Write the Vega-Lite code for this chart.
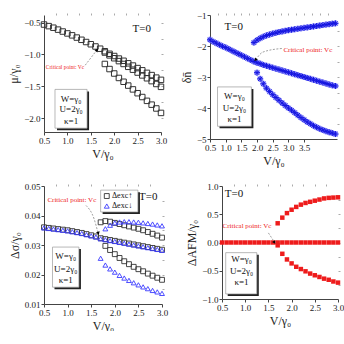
{
  "$schema": "https://vega.github.io/schema/vega-lite/v6.json",
  "padding": {"left": 7, "top": 11, "right": 0, "bottom": 0},
  "background": "white",
  "config": {
    "font": "Liberation Serif",
    "view": {"stroke": null},
    "axis": {"labelFont": "Liberation Serif", "labelFontSize": 9, "labelColor": "#222", "titleFont": "Liberation Serif", "titleFontSize": 12, "titleFontWeight": "normal", "titleColor": "#222", "domainColor": "#444", "tickColor": "#444", "tickSize": 3, "grid": false, "labelPadding": 1, "titlePadding": 3, "labelFlush": false, "labelOverlap": false},
    "text": {"font": "Liberation Serif"}
  },
  "datasets": {
    "p1": [
      {"V":0.5,"val":-0.53},{"V":0.6,"val":-0.555},{"V":0.7,"val":-0.58},{"V":0.8,"val":-0.61},{"V":0.9,"val":-0.64},{"V":1.0,"val":-0.67},{"V":1.1,"val":-0.70},{"V":1.2,"val":-0.735},{"V":1.3,"val":-0.77},{"V":1.4,"val":-0.805},{"V":1.5,"val":-0.84},{"V":1.6,"val":-0.875},{"V":1.7,"val":-0.91},
      {"V":1.8,"val":-0.95},{"V":1.9,"val":-0.99},{"V":2.0,"val":-1.025},{"V":2.1,"val":-1.065},{"V":2.2,"val":-1.10},{"V":2.3,"val":-1.14},{"V":2.4,"val":-1.175},{"V":2.5,"val":-1.215},{"V":2.6,"val":-1.25},{"V":2.7,"val":-1.29},{"V":2.8,"val":-1.325},{"V":2.9,"val":-1.365},{"V":3.0,"val":-1.40},
      {"V":1.8,"val":-0.97},{"V":1.9,"val":-1.015},{"V":2.0,"val":-1.06},{"V":2.1,"val":-1.105},{"V":2.2,"val":-1.15},{"V":2.3,"val":-1.195},{"V":2.4,"val":-1.24},{"V":2.5,"val":-1.285},{"V":2.6,"val":-1.33},{"V":2.7,"val":-1.375},{"V":2.8,"val":-1.42},{"V":2.9,"val":-1.465},{"V":3.0,"val":-1.51},
      {"V":1.8,"val":-1.15},{"V":1.9,"val":-1.23},{"V":2.0,"val":-1.30},{"V":2.1,"val":-1.37},{"V":2.2,"val":-1.43},{"V":2.3,"val":-1.49},{"V":2.4,"val":-1.55},{"V":2.5,"val":-1.61},{"V":2.6,"val":-1.67},{"V":2.7,"val":-1.73},{"V":2.8,"val":-1.79},{"V":2.9,"val":-1.85},{"V":3.0,"val":-1.92}
    ],
    "p2": [
      {"V":0.5,"val":-1.80},{"V":0.6,"val":-1.86},{"V":0.7,"val":-1.91},{"V":0.8,"val":-1.96},{"V":0.9,"val":-2.01},{"V":1.0,"val":-2.05},{"V":1.1,"val":-2.10},{"V":1.2,"val":-2.15},{"V":1.3,"val":-2.20},{"V":1.4,"val":-2.25},{"V":1.5,"val":-2.30},{"V":1.6,"val":-2.35},{"V":1.7,"val":-2.40},{"V":1.8,"val":-2.45},{"V":1.9,"val":-2.50},
      {"V":2.0,"val":-2.54},{"V":2.1,"val":-2.57},{"V":2.2,"val":-2.61},{"V":2.3,"val":-2.64},{"V":2.4,"val":-2.67},{"V":2.5,"val":-2.70},{"V":2.6,"val":-2.73},{"V":2.7,"val":-2.76},{"V":2.8,"val":-2.79},{"V":2.9,"val":-2.82},{"V":3.0,"val":-2.85},{"V":3.1,"val":-2.88},{"V":3.2,"val":-2.91},{"V":3.3,"val":-2.94},{"V":3.4,"val":-2.97},{"V":3.5,"val":-3.00},{"V":3.6,"val":-3.03},{"V":3.7,"val":-3.06},{"V":3.8,"val":-3.09},{"V":3.9,"val":-3.12},{"V":4.0,"val":-3.15},{"V":4.1,"val":-3.18},{"V":4.2,"val":-3.21},{"V":4.3,"val":-3.24},{"V":4.4,"val":-3.27},{"V":4.5,"val":-3.29},
      {"V":1.9,"val":-1.89},{"V":2.0,"val":-1.81},{"V":2.1,"val":-1.75},{"V":2.2,"val":-1.70},{"V":2.3,"val":-1.66},{"V":2.4,"val":-1.63},{"V":2.5,"val":-1.60},{"V":2.6,"val":-1.575},{"V":2.7,"val":-1.55},{"V":2.8,"val":-1.53},{"V":2.9,"val":-1.51},{"V":3.0,"val":-1.49},{"V":3.1,"val":-1.475},{"V":3.2,"val":-1.46},{"V":3.3,"val":-1.445},{"V":3.4,"val":-1.43},{"V":3.5,"val":-1.415},{"V":3.6,"val":-1.40},{"V":3.7,"val":-1.385},{"V":3.8,"val":-1.37},{"V":3.9,"val":-1.355},{"V":4.0,"val":-1.34},{"V":4.1,"val":-1.325},{"V":4.2,"val":-1.31},{"V":4.3,"val":-1.295},{"V":4.4,"val":-1.28},{"V":4.5,"val":-1.27},
      {"V":2.0,"val":-2.86},{"V":2.1,"val":-3.06},{"V":2.2,"val":-3.22},{"V":2.3,"val":-3.36},{"V":2.4,"val":-3.47},{"V":2.5,"val":-3.57},{"V":2.6,"val":-3.66},{"V":2.7,"val":-3.75},{"V":2.8,"val":-3.84},{"V":2.9,"val":-3.92},{"V":3.0,"val":-4.00},{"V":3.1,"val":-4.07},{"V":3.2,"val":-4.15},{"V":3.3,"val":-4.23},{"V":3.4,"val":-4.31},{"V":3.5,"val":-4.38},{"V":3.6,"val":-4.45},{"V":3.7,"val":-4.51},{"V":3.8,"val":-4.57},{"V":3.9,"val":-4.62},{"V":4.0,"val":-4.67},{"V":4.1,"val":-4.71},{"V":4.2,"val":-4.75},{"V":4.3,"val":-4.78},{"V":4.4,"val":-4.81},{"V":4.5,"val":-4.84}
    ],
    "p3": [
      {"V":0.5,"val":0.0360,"s":"up"},{"V":0.6,"val":0.0358,"s":"up"},{"V":0.7,"val":0.0356,"s":"up"},{"V":0.8,"val":0.0354,"s":"up"},{"V":0.9,"val":0.0352,"s":"up"},{"V":1.0,"val":0.0350,"s":"up"},{"V":1.1,"val":0.0347,"s":"up"},{"V":1.2,"val":0.0344,"s":"up"},{"V":1.3,"val":0.0341,"s":"up"},{"V":1.4,"val":0.0337,"s":"up"},{"V":1.5,"val":0.0333,"s":"up"},{"V":1.6,"val":0.0329,"s":"up"},
      {"V":1.7,"val":0.0377,"s":"up"},{"V":1.8,"val":0.0381,"s":"up"},{"V":1.9,"val":0.0379,"s":"up"},{"V":2.0,"val":0.0375,"s":"up"},{"V":2.1,"val":0.0371,"s":"up"},{"V":2.2,"val":0.0367,"s":"up"},{"V":2.3,"val":0.0363,"s":"up"},{"V":2.4,"val":0.0359,"s":"up"},{"V":2.5,"val":0.0355,"s":"up"},{"V":2.6,"val":0.0350,"s":"up"},{"V":2.7,"val":0.0344,"s":"up"},{"V":2.8,"val":0.0338,"s":"up"},{"V":2.9,"val":0.0332,"s":"up"},{"V":3.0,"val":0.0325,"s":"up"},
      {"V":1.7,"val":0.0323,"s":"up"},{"V":1.8,"val":0.0320,"s":"up"},{"V":1.9,"val":0.0317,"s":"up"},{"V":2.0,"val":0.0314,"s":"up"},{"V":2.1,"val":0.0311,"s":"up"},{"V":2.2,"val":0.0308,"s":"up"},{"V":2.3,"val":0.0305,"s":"up"},{"V":2.4,"val":0.0302,"s":"up"},{"V":2.5,"val":0.0299,"s":"up"},{"V":2.6,"val":0.0296,"s":"up"},{"V":2.7,"val":0.0293,"s":"up"},{"V":2.8,"val":0.0290,"s":"up"},{"V":2.9,"val":0.0287,"s":"up"},{"V":3.0,"val":0.0284,"s":"up"},
      {"V":1.8,"val":0.0297,"s":"up"},{"V":1.9,"val":0.0283,"s":"up"},{"V":2.0,"val":0.0269,"s":"up"},{"V":2.1,"val":0.0256,"s":"up"},{"V":2.2,"val":0.0245,"s":"up"},{"V":2.3,"val":0.0235,"s":"up"},{"V":2.4,"val":0.0226,"s":"up"},{"V":2.5,"val":0.0218,"s":"up"},{"V":2.6,"val":0.0211,"s":"up"},{"V":2.7,"val":0.0203,"s":"up"},{"V":2.8,"val":0.0196,"s":"up"},{"V":2.9,"val":0.0189,"s":"up"},{"V":3.0,"val":0.0182,"s":"up"},
      {"V":0.5,"val":0.0358,"s":"down"},{"V":0.6,"val":0.0356,"s":"down"},{"V":0.7,"val":0.0354,"s":"down"},{"V":0.8,"val":0.0352,"s":"down"},{"V":0.9,"val":0.0350,"s":"down"},{"V":1.0,"val":0.0348,"s":"down"},{"V":1.1,"val":0.0345,"s":"down"},{"V":1.2,"val":0.0342,"s":"down"},{"V":1.3,"val":0.0339,"s":"down"},{"V":1.4,"val":0.0335,"s":"down"},{"V":1.5,"val":0.0331,"s":"down"},{"V":1.6,"val":0.0327,"s":"down"},
      {"V":1.8,"val":0.0355,"s":"down"},{"V":1.9,"val":0.0367,"s":"down"},{"V":2.0,"val":0.0375,"s":"down"},{"V":2.1,"val":0.0378,"s":"down"},{"V":2.2,"val":0.0379,"s":"down"},{"V":2.3,"val":0.0379,"s":"down"},{"V":2.4,"val":0.0378,"s":"down"},{"V":2.5,"val":0.0377,"s":"down"},{"V":2.6,"val":0.0375,"s":"down"},{"V":2.7,"val":0.0373,"s":"down"},{"V":2.8,"val":0.0371,"s":"down"},{"V":2.9,"val":0.0368,"s":"down"},{"V":3.0,"val":0.0365,"s":"down"},
      {"V":1.7,"val":0.0321,"s":"down"},{"V":1.8,"val":0.0318,"s":"down"},{"V":1.9,"val":0.0315,"s":"down"},{"V":2.0,"val":0.0312,"s":"down"},{"V":2.1,"val":0.0309,"s":"down"},{"V":2.2,"val":0.0306,"s":"down"},{"V":2.3,"val":0.0303,"s":"down"},{"V":2.4,"val":0.0300,"s":"down"},{"V":2.5,"val":0.0297,"s":"down"},{"V":2.6,"val":0.0294,"s":"down"},{"V":2.7,"val":0.0291,"s":"down"},{"V":2.8,"val":0.0288,"s":"down"},{"V":2.9,"val":0.0285,"s":"down"},{"V":3.0,"val":0.0282,"s":"down"},
      {"V":1.7,"val":0.0255,"s":"down"},{"V":1.8,"val":0.0232,"s":"down"},{"V":1.9,"val":0.0219,"s":"down"},{"V":2.0,"val":0.0208,"s":"down"},{"V":2.1,"val":0.0197,"s":"down"},{"V":2.2,"val":0.0188,"s":"down"},{"V":2.3,"val":0.0180,"s":"down"},{"V":2.4,"val":0.0172,"s":"down"},{"V":2.5,"val":0.0165,"s":"down"},{"V":2.6,"val":0.0158,"s":"down"},{"V":2.7,"val":0.0152,"s":"down"},{"V":2.8,"val":0.0146,"s":"down"},{"V":2.9,"val":0.0141,"s":"down"},{"V":3.0,"val":0.0136,"s":"down"}
    ],
    "p4": [
      {"V":0.5,"val":0},{"V":0.6,"val":0},{"V":0.7,"val":0},{"V":0.8,"val":0},{"V":0.9,"val":0},{"V":1.0,"val":0},{"V":1.1,"val":0},{"V":1.2,"val":0},{"V":1.3,"val":0},{"V":1.4,"val":0},{"V":1.5,"val":0},{"V":1.6,"val":0},{"V":1.7,"val":0},{"V":1.8,"val":0},{"V":1.9,"val":0},{"V":2.0,"val":0},{"V":2.1,"val":0},{"V":2.2,"val":0},{"V":2.3,"val":0},{"V":2.4,"val":0},{"V":2.5,"val":0},{"V":2.6,"val":0},{"V":2.7,"val":0},{"V":2.8,"val":0},{"V":2.9,"val":0},{"V":3.0,"val":0},
      {"V":1.7,"val":0.34},{"V":1.8,"val":0.44},{"V":1.9,"val":0.52},{"V":2.0,"val":0.58},{"V":2.1,"val":0.63},{"V":2.2,"val":0.67},{"V":2.3,"val":0.70},{"V":2.4,"val":0.72},{"V":2.5,"val":0.74},{"V":2.6,"val":0.76},{"V":2.7,"val":0.78},{"V":2.8,"val":0.79},{"V":2.9,"val":0.795},{"V":3.0,"val":0.80},
      {"V":1.7,"val":-0.05},{"V":1.8,"val":-0.20},{"V":1.9,"val":-0.30},{"V":2.0,"val":-0.37},{"V":2.1,"val":-0.43},{"V":2.2,"val":-0.47},{"V":2.3,"val":-0.51},{"V":2.4,"val":-0.55},{"V":2.5,"val":-0.58},{"V":2.6,"val":-0.61},{"V":2.7,"val":-0.64},{"V":2.8,"val":-0.66},{"V":2.9,"val":-0.69},{"V":3.0,"val":-0.71}
    ]
  },
  "vconcat": [
    {
      "hconcat": [
        {
          "width": 117, "height": 117,
          "resolve": {"axis": {"x": "independent", "y": "independent"}},
          "layer": [
            {"data": {"name": "p1"}, "mark": {"type": "point", "shape": "square", "filled": false, "stroke": "#333", "strokeWidth": 1, "size": 30, "opacity": 1},
             "encoding": {
               "x": {"field": "V", "type": "quantitative", "scale": {"domain": [0.5, 3.0], "nice": false, "zero": false}, "axis": {"values": [0.5, 1, 1.5, 2, 2.5, 3], "format": ".1f", "title": "V/γ₀"}},
               "y": {"field": "val", "type": "quantitative", "scale": {"domain": [-2.22, -0.38], "nice": false, "zero": false}, "axis": {"values": [-2, -1.5, -1, -0.5], "format": ".1f", "title": "μ/γ₀"}}}},
            {"data": {"values": [{"V": 2.59, "val": -0.6, "t": "T=0"}]}, "mark": {"type": "text", "fontSize": 11, "color": "#111"},
             "encoding": {
               "x": {"field": "V", "type": "quantitative", "axis": {"orient": "top", "labels": false, "domain": false, "tickColor": "#aaa", "tickSize": 2, "title": null, "values": [0.75, 1, 1.25, 1.5, 1.75, 2, 2.25, 2.5, 2.75]}},
               "y": {"field": "val", "type": "quantitative", "axis": {"orient": "right", "labels": false, "domain": false, "tickColor": "#aaa", "tickSize": 2, "title": null, "values": [-2, -1.75, -1.5, -1.25, -1, -0.75, -0.5]}},
               "text": {"field": "t"}}},
            {"data": {"values": [{"x1": 0.735, "x2": 1.42, "y1": -1.55, "y2": -2.16}]}, "mark": {"type": "rect", "fill": "#222", "xOffset": 2, "x2Offset": 2, "yOffset": 2, "y2Offset": 2},
             "encoding": {"x": {"field": "x1", "type": "quantitative", "axis": null}, "x2": {"field": "x2"}, "y": {"field": "y1", "type": "quantitative", "axis": null}, "y2": {"field": "y2"}}},
            {"data": {"values": [{"x1": 0.735, "x2": 1.42, "y1": -1.55, "y2": -2.16}]}, "mark": {"type": "rect", "fill": "white", "stroke": "#999", "strokeWidth": 0.7},
             "encoding": {"x": {"field": "x1", "type": "quantitative", "axis": null}, "x2": {"field": "x2"}, "y": {"field": "y1", "type": "quantitative", "axis": null}, "y2": {"field": "y2"}}},
            {"data": {"values": [{"V": 1.08, "val": -1.705, "t": "W=γ₀"}, {"V": 1.08, "val": -1.865, "t": "U=2γ₀"}, {"V": 1.08, "val": -2.04, "t": "κ=1"}]}, "mark": {"type": "text", "fontSize": 9, "color": "#111"},
             "encoding": {"x": {"field": "V", "type": "quantitative", "axis": null}, "y": {"field": "val", "type": "quantitative", "axis": null}, "text": {"field": "t"}}},
            {"data": {"values": [{"V": 0.95, "val": -1.2, "t": "Critical point: Vc"}]}, "mark": {"type": "text", "fontSize": 5.5, "color": "#ee2222"},
             "encoding": {"x": {"field": "V", "type": "quantitative", "axis": null}, "y": {"field": "val", "type": "quantitative", "axis": null}, "text": {"field": "t"}}},
            {"data": {"values": [{"V": 1.38, "val": -1.17, "o": 1}, {"V": 1.62, "val": -0.94, "o": 2}]}, "mark": {"type": "line", "stroke": "#777", "strokeWidth": 0.7, "strokeDash": [2, 1.5]},
             "encoding": {"x": {"field": "V", "type": "quantitative", "axis": null}, "y": {"field": "val", "type": "quantitative", "axis": null}, "order": {"field": "o"}}},
            {"data": {"values": [{"V": 1.63, "val": -0.93}]}, "mark": {"type": "point", "shape": "triangle-up", "filled": true, "fill": "#000", "size": 14, "angle": 39, "opacity": 1},
             "encoding": {"x": {"field": "V", "type": "quantitative", "axis": null}, "y": {"field": "val", "type": "quantitative", "axis": null}}}
          ]
        },
        {
          "width": 127, "height": 124,
          "resolve": {"axis": {"x": "independent", "y": "independent"}},
          "layer": [
            {"data": {"name": "p2"}, "mark": {"type": "point", "shape": "M-1,0L1,0M0,-1L0,1M-0.7,-0.7L0.7,0.7M-0.7,0.7L0.7,-0.7", "filled": false, "stroke": "#8c8cff", "strokeWidth": 2.4, "size": 36, "opacity": 0.8},
             "encoding": {
               "x": {"field": "V", "type": "quantitative", "scale": {"domain": [0.5, 4.55], "nice": false, "zero": false}, "axis": {"values": [0.5, 1, 1.5, 2, 2.5, 3, 3.5], "format": ".1f", "title": "V/γ₀"}},
               "y": {"field": "val", "type": "quantitative", "scale": {"domain": [-5, -1], "nice": false, "zero": false}, "axis": {"values": [-5, -4, -3, -2, -1], "format": "d", "title": "δn̄"}}}},
            {"data": {"name": "p2"}, "mark": {"type": "point", "shape": "M-1,0L1,0M0,-1L0,1M-0.7,-0.7L0.7,0.7M-0.7,0.7L0.7,-0.7", "filled": false, "stroke": "#1515e0", "strokeWidth": 1, "size": 36, "opacity": 1},
             "encoding": {
               "x": {"field": "V", "type": "quantitative", "axis": {"orient": "top", "labels": false, "domain": false, "tickColor": "#aaa", "tickSize": 2, "title": null, "values": [0.75, 1, 1.25, 1.5, 1.75, 2, 2.25, 2.5, 2.75, 3, 3.25, 3.5, 3.75, 4, 4.25]}},
               "y": {"field": "val", "type": "quantitative", "axis": {"orient": "right", "labels": false, "domain": false, "tickColor": "#aaa", "tickSize": 2, "title": null, "values": [-4.5, -4, -3.5, -3, -2.5, -2, -1.5]}}}},
            {"data": {"values": [{"V": 1.26, "val": -1.38, "t": "T=0"}]}, "mark": {"type": "text", "fontSize": 11, "color": "#111"},
             "encoding": {"x": {"field": "V", "type": "quantitative", "axis": null}, "y": {"field": "val", "type": "quantitative", "axis": null}, "text": {"field": "t"}}},
            {"data": {"values": [{"x1": 0.74, "x2": 1.82, "y1": -3.32, "y2": -4.59}]}, "mark": {"type": "rect", "fill": "#222", "xOffset": 2, "x2Offset": 2, "yOffset": 2, "y2Offset": 2},
             "encoding": {"x": {"field": "x1", "type": "quantitative", "axis": null}, "x2": {"field": "x2"}, "y": {"field": "y1", "type": "quantitative", "axis": null}, "y2": {"field": "y2"}}},
            {"data": {"values": [{"x1": 0.74, "x2": 1.82, "y1": -3.32, "y2": -4.59}]}, "mark": {"type": "rect", "fill": "white", "stroke": "#999", "strokeWidth": 0.7},
             "encoding": {"x": {"field": "x1", "type": "quantitative", "axis": null}, "x2": {"field": "x2"}, "y": {"field": "y1", "type": "quantitative", "axis": null}, "y2": {"field": "y2"}}},
            {"data": {"values": [{"V": 1.28, "val": -3.62, "t": "W=γ₀"}, {"V": 1.28, "val": -4.0, "t": "U=2γ₀"}, {"V": 1.28, "val": -4.35, "t": "κ=1"}]}, "mark": {"type": "text", "fontSize": 9, "color": "#111"},
             "encoding": {"x": {"field": "V", "type": "quantitative", "axis": null}, "y": {"field": "val", "type": "quantitative", "axis": null}, "text": {"field": "t"}}},
            {"data": {"values": [{"V": 3.62, "val": -2.12, "t": "Critical point: Vc"}]}, "mark": {"type": "text", "fontSize": 7, "color": "#ee2222"},
             "encoding": {"x": {"field": "V", "type": "quantitative", "axis": null}, "y": {"field": "val", "type": "quantitative", "axis": null}, "text": {"field": "t"}}},
            {"data": {"values": [{"V": 2.79, "val": -2.08, "o": 1}, {"V": 2.18, "val": -2.2, "o": 2}, {"V": 1.97, "val": -2.43, "o": 3}]}, "mark": {"type": "line", "stroke": "#777", "strokeWidth": 0.7, "strokeDash": [2, 1.5], "interpolate": "monotone"},
             "encoding": {"x": {"field": "V", "type": "quantitative", "axis": null}, "y": {"field": "val", "type": "quantitative", "axis": null}, "order": {"field": "o"}}},
            {"data": {"values": [{"V": 1.95, "val": -2.45}]}, "mark": {"type": "point", "shape": "triangle-up", "filled": true, "fill": "#000", "size": 14, "angle": 224, "opacity": 1},
             "encoding": {"x": {"field": "V", "type": "quantitative", "axis": null}, "y": {"field": "val", "type": "quantitative", "axis": null}}}
          ]
        }
      ],
      "spacing": 13
    },
    {
      "hconcat": [
        {
          "width": 118, "height": 118,
          "resolve": {"axis": {"x": "independent", "y": "independent"}},
          "layer": [
            {"data": {"name": "p3"}, "mark": {"type": "point", "filled": false, "strokeWidth": 0.9, "size": 24, "opacity": 1},
             "encoding": {
               "x": {"field": "V", "type": "quantitative", "scale": {"domain": [0.5, 3.0], "nice": false, "zero": false}, "axis": {"values": [0.5, 1, 1.5, 2, 2.5, 3], "format": ".1f", "title": "V/γ₀"}},
               "y": {"field": "val", "type": "quantitative", "scale": {"domain": [0.01, 0.05], "nice": false, "zero": false}, "axis": {"values": [0.01, 0.02, 0.03, 0.04, 0.05], "format": ".2f", "title": "Δσ/γ₀"}},
               "shape": {"field": "s", "type": "nominal", "scale": {"domain": ["up", "down"], "range": ["square", "triangle-up"]}, "legend": null},
               "stroke": {"field": "s", "type": "nominal", "scale": {"domain": ["up", "down"], "range": ["#333", "#3a3aff"]}, "legend": null}}},
            {"data": {"values": [{"V": 2.71, "val": 0.0463, "t": "T=0"}]}, "mark": {"type": "text", "fontSize": 11, "color": "#111"},
             "encoding": {
               "x": {"field": "V", "type": "quantitative", "axis": {"orient": "top", "labels": false, "domain": false, "tickColor": "#aaa", "tickSize": 2, "title": null, "values": [0.75, 1, 1.25, 1.5, 1.75, 2, 2.25, 2.5, 2.75]}},
               "y": {"field": "val", "type": "quantitative", "axis": {"orient": "right", "labels": false, "domain": false, "tickColor": "#aaa", "tickSize": 2, "title": null, "values": [0.015, 0.02, 0.025, 0.03, 0.035, 0.04, 0.045]}},
               "text": {"field": "t"}}},
            {"data": {"values": [{"x1": 1.7, "x2": 2.49, "y1": 0.0486, "y2": 0.0412}]}, "mark": {"type": "rect", "fill": "#222", "xOffset": 2, "x2Offset": 2, "yOffset": 2, "y2Offset": 2},
             "encoding": {"x": {"field": "x1", "type": "quantitative", "axis": null}, "x2": {"field": "x2"}, "y": {"field": "y1", "type": "quantitative", "axis": null}, "y2": {"field": "y2"}}},
            {"data": {"values": [{"x1": 1.7, "x2": 2.49, "y1": 0.0486, "y2": 0.0412}]}, "mark": {"type": "rect", "fill": "white", "stroke": "#999", "strokeWidth": 0.7},
             "encoding": {"x": {"field": "x1", "type": "quantitative", "axis": null}, "x2": {"field": "x2"}, "y": {"field": "y1", "type": "quantitative", "axis": null}, "y2": {"field": "y2"}}},
            {"data": {"values": [{"V": 1.83, "val": 0.0466, "s": "up"}, {"V": 1.83, "val": 0.0432, "s": "down"}]}, "mark": {"type": "point", "filled": false, "strokeWidth": 0.9, "size": 24, "opacity": 1},
             "encoding": {"x": {"field": "V", "type": "quantitative", "axis": null}, "y": {"field": "val", "type": "quantitative", "axis": null},
               "shape": {"field": "s", "type": "nominal", "scale": {"domain": ["up", "down"], "range": ["square", "triangle-up"]}, "legend": null},
               "stroke": {"field": "s", "type": "nominal", "scale": {"domain": ["up", "down"], "range": ["#333", "#3a3aff"]}, "legend": null}}},
            {"data": {"values": [{"V": 1.94, "val": 0.0466, "t": "Δexc↑"}, {"V": 1.94, "val": 0.0432, "t": "Δexc↓"}]}, "mark": {"type": "text", "fontSize": 8, "align": "left", "color": "#111"},
             "encoding": {"x": {"field": "V", "type": "quantitative", "axis": null}, "y": {"field": "val", "type": "quantitative", "axis": null}, "text": {"field": "t"}}},
            {"data": {"values": [{"x1": 0.68, "x2": 1.24, "y1": 0.0293, "y2": 0.0157}]}, "mark": {"type": "rect", "fill": "#222", "xOffset": 2, "x2Offset": 2, "yOffset": 2, "y2Offset": 2},
             "encoding": {"x": {"field": "x1", "type": "quantitative", "axis": null}, "x2": {"field": "x2"}, "y": {"field": "y1", "type": "quantitative", "axis": null}, "y2": {"field": "y2"}}},
            {"data": {"values": [{"x1": 0.68, "x2": 1.24, "y1": 0.0293, "y2": 0.0157}]}, "mark": {"type": "rect", "fill": "white", "stroke": "#999", "strokeWidth": 0.7},
             "encoding": {"x": {"field": "x1", "type": "quantitative", "axis": null}, "x2": {"field": "x2"}, "y": {"field": "y1", "type": "quantitative", "axis": null}, "y2": {"field": "y2"}}},
            {"data": {"values": [{"V": 0.96, "val": 0.0264, "t": "W=γ₀"}, {"V": 0.96, "val": 0.0220, "t": "U=2γ₀"}, {"V": 0.96, "val": 0.0180, "t": "κ=1"}]}, "mark": {"type": "text", "fontSize": 9, "color": "#111"},
             "encoding": {"x": {"field": "V", "type": "quantitative", "axis": null}, "y": {"field": "val", "type": "quantitative", "axis": null}, "text": {"field": "t"}}},
            {"data": {"values": [{"V": 1.09, "val": 0.0452, "t": "Critical point: Vc"}]}, "mark": {"type": "text", "fontSize": 7, "color": "#ee2222"},
             "encoding": {"x": {"field": "V", "type": "quantitative", "axis": null}, "y": {"field": "val", "type": "quantitative", "axis": null}, "text": {"field": "t"}}},
            {"data": {"values": [{"V": 1.39, "val": 0.0434, "o": 1}, {"V": 1.56, "val": 0.0389, "o": 2}, {"V": 1.64, "val": 0.0344, "o": 3}]}, "mark": {"type": "line", "stroke": "#777", "strokeWidth": 0.7, "strokeDash": [2, 1.5], "interpolate": "monotone"},
             "encoding": {"x": {"field": "V", "type": "quantitative", "axis": null}, "y": {"field": "val", "type": "quantitative", "axis": null}, "order": {"field": "o"}}},
            {"data": {"values": [{"V": 1.65, "val": 0.034}]}, "mark": {"type": "point", "shape": "triangle-up", "filled": true, "fill": "#000", "size": 14, "angle": 164, "opacity": 1},
             "encoding": {"x": {"field": "V", "type": "quantitative", "axis": null}, "y": {"field": "val", "type": "quantitative", "axis": null}}}
          ]
        },
        {
          "width": 116, "height": 113,
          "resolve": {"axis": {"x": "independent", "y": "independent"}},
          "layer": [
            {"data": {"name": "p4"}, "mark": {"type": "point", "shape": "square", "filled": true, "fill": "#ee1c1c", "size": 20, "opacity": 1, "strokeWidth": 0},
             "encoding": {
               "x": {"field": "V", "type": "quantitative", "scale": {"domain": [0.5, 3.0], "nice": false, "zero": false}, "axis": {"values": [0.5, 1, 1.5, 2, 2.5, 3], "format": ".1f", "title": "V/γ₀"}},
               "y": {"field": "val", "type": "quantitative", "scale": {"domain": [-1, 1], "nice": false, "zero": false}, "axis": {"values": [-1, -0.5, 0, 0.5, 1], "format": ".1f", "title": "ΔAFM/γ₀"}}}},
            {"data": {"values": [{"V": 0.76, "val": 0.86, "t": "T=0"}]}, "mark": {"type": "text", "fontSize": 11, "color": "#111"},
             "encoding": {
               "x": {"field": "V", "type": "quantitative", "axis": {"orient": "top", "labels": false, "domain": false, "tickColor": "#aaa", "tickSize": 2, "title": null, "values": [0.75, 1, 1.25, 1.5, 1.75, 2, 2.25, 2.5, 2.75]}},
               "y": {"field": "val", "type": "quantitative", "axis": {"orient": "right", "labels": false, "domain": false, "tickColor": "#aaa", "tickSize": 2, "title": null, "values": [-0.75, -0.5, -0.25, 0, 0.25, 0.5, 0.75]}},
               "text": {"field": "t"}}},
            {"data": {"values": [{"x1": 0.58, "x2": 1.25, "y1": -0.18, "y2": -0.91}]}, "mark": {"type": "rect", "fill": "#222", "xOffset": 2, "x2Offset": 2, "yOffset": 2, "y2Offset": 2},
             "encoding": {"x": {"field": "x1", "type": "quantitative", "axis": null}, "x2": {"field": "x2"}, "y": {"field": "y1", "type": "quantitative", "axis": null}, "y2": {"field": "y2"}}},
            {"data": {"values": [{"x1": 0.58, "x2": 1.25, "y1": -0.18, "y2": -0.91}]}, "mark": {"type": "rect", "fill": "white", "stroke": "#999", "strokeWidth": 0.7},
             "encoding": {"x": {"field": "x1", "type": "quantitative", "axis": null}, "x2": {"field": "x2"}, "y": {"field": "y1", "type": "quantitative", "axis": null}, "y2": {"field": "y2"}}},
            {"data": {"values": [{"V": 0.92, "val": -0.30, "t": "W=γ₀"}, {"V": 0.92, "val": -0.50, "t": "U=2γ₀"}, {"V": 0.92, "val": -0.70, "t": "κ=1"}]}, "mark": {"type": "text", "fontSize": 9, "color": "#111"},
             "encoding": {"x": {"field": "V", "type": "quantitative", "axis": null}, "y": {"field": "val", "type": "quantitative", "axis": null}, "text": {"field": "t"}}},
            {"data": {"values": [{"V": 1.04, "val": 0.295, "t": "Critical point: Vc"}]}, "mark": {"type": "text", "fontSize": 7, "color": "#ee2222"},
             "encoding": {"x": {"field": "V", "type": "quantitative", "axis": null}, "y": {"field": "val", "type": "quantitative", "axis": null}, "text": {"field": "t"}}},
            {"data": {"values": [{"V": 1.5, "val": 0.17, "o": 1}, {"V": 1.62, "val": 0.02, "o": 2}]}, "mark": {"type": "line", "stroke": "#777", "strokeWidth": 0.7, "strokeDash": [2, 1.5]},
             "encoding": {"x": {"field": "V", "type": "quantitative", "axis": null}, "y": {"field": "val", "type": "quantitative", "axis": null}, "order": {"field": "o"}}},
            {"data": {"values": [{"V": 1.63, "val": 0.0}]}, "mark": {"type": "point", "shape": "triangle-up", "filled": true, "fill": "#000", "size": 14, "angle": 148, "opacity": 1},
             "encoding": {"x": {"field": "V", "type": "quantitative", "axis": null}, "y": {"field": "val", "type": "quantitative", "axis": null}}}
          ]
        }
      ],
      "spacing": 17
    }
  ],
  "spacing": 16
}
